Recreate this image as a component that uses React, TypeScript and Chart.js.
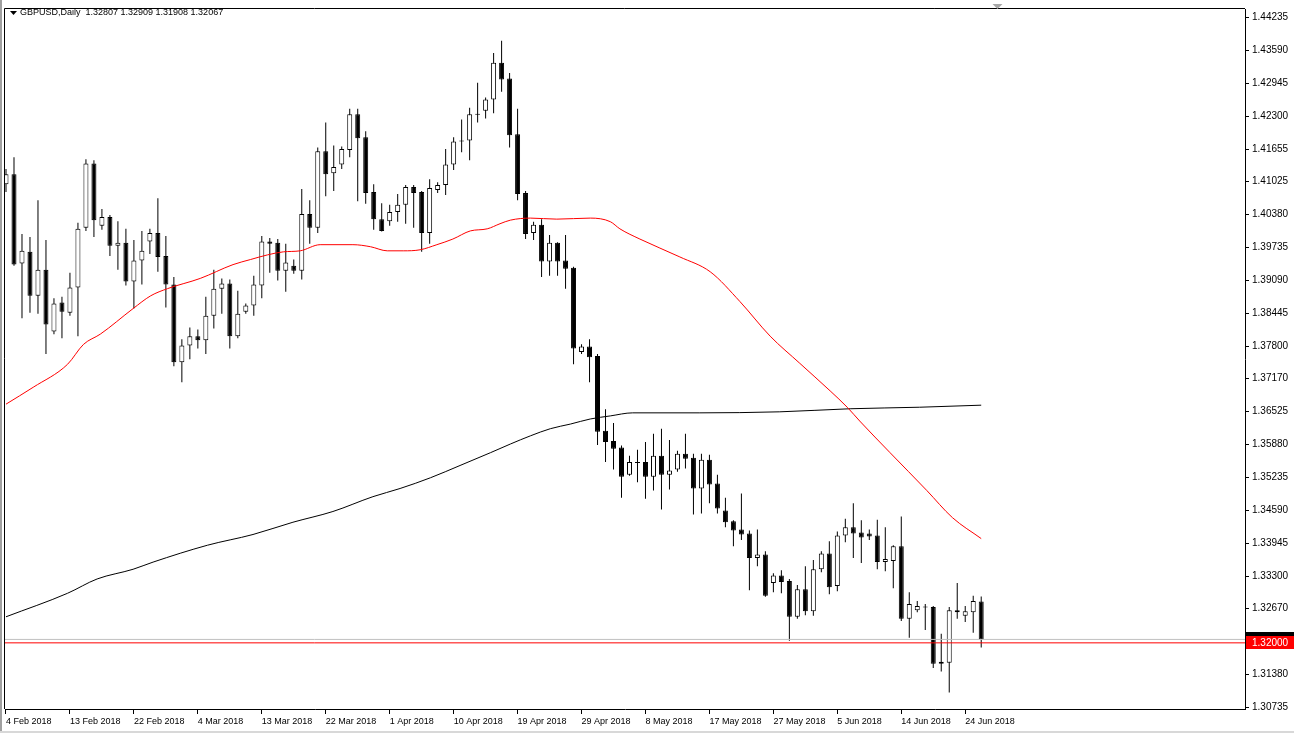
import React, { useEffect, useRef } from 'react';
import { Chart, registerables } from 'chart.js';

Chart.register(...registerables);

// ---- Data (GBPUSD Daily, 4 Feb 2018 .. 26 Jun 2018, one bar per trading day incl. Sunday bars) ----
const symbolTitle = 'GBPUSD,Daily';

const openP = [
  1.4097, 1.4117, 1.3942, 1.3965, 1.3879, 1.3930, 1.3809, 1.3866, 1.3846, 1.3895,
  1.4012, 1.4138, 1.4016, 1.4033, 1.3977, 1.3983, 1.3907, 1.3948, 1.3985, 1.4002,
  1.3957, 1.3901, 1.3749, 1.3782, 1.3800, 1.3792, 1.3840, 1.3893, 1.3903, 1.3800,
  1.3848, 1.3860, 1.3899, 1.3985, 1.3983, 1.3928, 1.3938, 1.3928, 1.4039, 1.4012,
  1.4162, 1.4119, 1.4136, 1.4164, 1.4234, 1.4189, 1.4082, 1.4029, 1.4025, 1.4043,
  1.4057, 1.4092, 1.4082, 1.4002, 1.4086, 1.4096, 1.4136, 1.4183, 1.4183, 1.4233,
  1.4241, 1.4263, 1.4335, 1.4304, 1.4195, 1.4080, 1.4002, 1.4018, 1.3946, 1.3983,
  1.3948, 1.3934, 1.3769, 1.3780, 1.3761, 1.3615, 1.3595, 1.3582, 1.3529, 1.3552,
  1.3554, 1.3525, 1.3566, 1.3529, 1.3539, 1.3570, 1.3562, 1.3502, 1.3558, 1.3512,
  1.3459, 1.3438, 1.3422, 1.3414, 1.3366, 1.3373, 1.3317, 1.3332, 1.3321, 1.3251,
  1.3305, 1.3262, 1.3344, 1.3375, 1.3311, 1.3410, 1.3426, 1.3416, 1.3414, 1.3410,
  1.3358, 1.3360, 1.3389, 1.3247, 1.3264, 1.3270, 1.3270, 1.3163, 1.3161, 1.3264,
  1.3253, 1.3260, 1.32807,
];
const highP = [
  1.4127, 1.4150, 1.4000, 1.3994, 1.4066, 1.3988, 1.3874, 1.3877, 1.3924, 1.4022,
  1.4146, 1.4144, 1.4049, 1.4037, 1.4025, 1.4010, 1.3988, 1.4006, 1.4010, 1.4070,
  1.3996, 1.3916, 1.3794, 1.3817, 1.3813, 1.3877, 1.3930, 1.3913, 1.3911, 1.3889,
  1.3864, 1.3918, 1.3996, 1.3992, 1.3990, 1.3981, 1.3950, 1.4088, 1.4066, 1.4169,
  1.4218, 1.4173, 1.4171, 1.4245, 1.4245, 1.4201, 1.4097, 1.4060, 1.4057, 1.4078,
  1.4096, 1.4096, 1.4084, 1.4107, 1.4101, 1.4166, 1.4189, 1.4224, 1.4247, 1.4296,
  1.4267, 1.4354, 1.4378, 1.4315, 1.4245, 1.4084, 1.4024, 1.4029, 1.3998, 1.3984,
  1.3998, 1.3936, 1.3784, 1.3794, 1.3765, 1.3657, 1.3630, 1.3586, 1.3566, 1.3578,
  1.3593, 1.3609, 1.3619, 1.3597, 1.3576, 1.3609, 1.3570, 1.3570, 1.3568, 1.3529,
  1.3484, 1.3440, 1.3492, 1.3420, 1.3422, 1.3379, 1.3336, 1.3342, 1.3325, 1.3313,
  1.3350, 1.3362, 1.3379, 1.3399, 1.3418, 1.3443, 1.3473, 1.3440, 1.3422, 1.3441,
  1.3426, 1.3391, 1.3447, 1.3299, 1.3282, 1.3276, 1.3272, 1.3218, 1.3270, 1.3317,
  1.3272, 1.3292, 1.32909,
];
const lowP = [
  1.4082, 1.3938, 1.3835, 1.3846, 1.3844, 1.3765, 1.3804, 1.3796, 1.3840, 1.3800,
  1.4006, 1.3994, 1.4008, 1.3957, 1.3930, 1.3899, 1.3854, 1.3901, 1.3961, 1.3926,
  1.3856, 1.3741, 1.3710, 1.3755, 1.3776, 1.3765, 1.3815, 1.3844, 1.3776, 1.3796,
  1.3844, 1.3840, 1.3874, 1.3924, 1.3909, 1.3887, 1.3922, 1.3911, 1.3981, 1.4002,
  1.4074, 1.4084, 1.4127, 1.4150, 1.4064, 1.4059, 1.4008, 1.4005, 1.4016, 1.4024,
  1.4020, 1.4012, 1.3965, 1.3981, 1.4080, 1.4076, 1.4125, 1.4160, 1.4144, 1.4218,
  1.4226, 1.4236, 1.4278, 1.4169, 1.4066, 1.3990, 1.3988, 1.3916, 1.3918, 1.3918,
  1.3893, 1.3745, 1.3765, 1.3710, 1.3587, 1.3554, 1.3539, 1.3484, 1.3527, 1.3514,
  1.3482, 1.3498, 1.3461, 1.3500, 1.3535, 1.3541, 1.3451, 1.3453, 1.3473, 1.3453,
  1.3426, 1.3389, 1.3401, 1.3303, 1.3350, 1.3290, 1.3299, 1.3297, 1.3204, 1.3247,
  1.3254, 1.3253, 1.3338, 1.3295, 1.3301, 1.3397, 1.3366, 1.3356, 1.3401, 1.3344,
  1.3340, 1.3307, 1.3243, 1.3210, 1.3260, 1.3225, 1.3151, 1.3144, 1.3103, 1.3247,
  1.3241, 1.3220, 1.31908,
];
const closeP = [
  1.4117, 1.3940, 1.3967, 1.3879, 1.3930, 1.3823, 1.3864, 1.3848, 1.3895, 1.4010,
  1.4138, 1.4027, 1.4033, 1.3977, 1.3983, 1.3907, 1.3948, 1.3967, 1.4002, 1.3955,
  1.3901, 1.3749, 1.3782, 1.3800, 1.3792, 1.3840, 1.3893, 1.3903, 1.3800, 1.3844,
  1.3860, 1.3901, 1.3985, 1.3981, 1.3928, 1.3944, 1.3928, 1.4039, 1.4012, 1.4162,
  1.4117, 1.4131, 1.4166, 1.4234, 1.4187, 1.4080, 1.4029, 1.4006, 1.4043, 1.4057,
  1.4092, 1.4080, 1.4002, 1.4090, 1.4096, 1.4136, 1.4181, 1.4181, 1.4234, 1.4234,
  1.4263, 1.4335, 1.4302, 1.4193, 1.4078, 1.4000, 1.4018, 1.3946, 1.3983, 1.3946,
  1.3932, 1.3776, 1.3780, 1.3759, 1.3613, 1.3593, 1.3580, 1.3525, 1.3554, 1.3553,
  1.3525, 1.3566, 1.3529, 1.3537, 1.3570, 1.3560, 1.3502, 1.3558, 1.3510, 1.3463,
  1.3436, 1.3420, 1.3412, 1.3366, 1.3373, 1.3292, 1.3332, 1.3319, 1.3251, 1.3305,
  1.3262, 1.3344, 1.3375, 1.3309, 1.3410, 1.3426, 1.3414, 1.3406, 1.3408, 1.3358,
  1.3364, 1.3389, 1.3247, 1.3276, 1.3272, 1.3269, 1.3159, 1.3159, 1.3264, 1.3260,
  1.3262, 1.3282, 1.32067,
];

// Moving averages (bar index -> price)
const maRedBars = [0, 3.4, 7.7, 9.7, 11.8, 15.9, 18.1, 20.2, 24.3, 28.4, 30.6, 32.7, 34.7, 36.8, 39.3, 43.4, 45.6, 47.7, 49.7, 51.8, 53.9, 55.9, 58.1, 60.2, 61.8, 63.1, 65.6, 68.9, 73.1, 75.6, 76.8, 79.3, 84.3, 88.1, 91.8, 95.6, 99.3, 103.1, 105.3, 106.8, 110.6, 115.2, 118.4, 122];
const maRedValues = [1.3667, 1.3700, 1.3745, 1.3784, 1.3804, 1.3854, 1.3879, 1.3893, 1.3913, 1.3940, 1.3950, 1.3959, 1.3965, 1.3967, 1.3979, 1.3979, 1.3975, 1.3967, 1.3967, 1.3969, 1.3979, 1.3990, 1.4006, 1.4010, 1.4020, 1.4027, 1.4031, 1.4029, 1.4031, 1.4024, 1.4010, 1.3990, 1.3955, 1.3926, 1.3868, 1.3800, 1.3747, 1.3693, 1.3660, 1.3634, 1.3572, 1.3498, 1.3445, 1.3404];
const maBlackBars = [0, 7.7, 11.4, 15.9, 18.4, 25.2, 30.9, 35.9, 40.9, 45.9, 49.3, 53.1, 56.8, 60.6, 63.1, 65.6, 68.1, 70.6, 73.1, 75.6, 78.4, 86.8, 96.8, 105.6, 114.3, 122];
const maBlackValues = [1.3251, 1.3297, 1.3325, 1.3344, 1.3358, 1.3391, 1.3412, 1.3436, 1.3457, 1.3486, 1.3502, 1.3523, 1.3547, 1.3572, 1.3589, 1.3605, 1.3619, 1.3628, 1.3638, 1.3644, 1.3650, 1.3650, 1.3652, 1.3658, 1.3661, 1.3665];

const xTickBars = [0, 8, 16, 24, 32, 40, 48, 56, 64, 72, 80, 88, 96, 104, 112, 120];
const xTickLabels = ['4 Feb 2018', '13 Feb 2018', '22 Feb 2018', '4 Mar 2018', '13 Mar 2018', '22 Mar 2018', '1 Apr 2018', '10 Apr 2018', '19 Apr 2018', '29 Apr 2018', '8 May 2018', '17 May 2018', '27 May 2018', '5 Jun 2018', '14 Jun 2018', '24 Jun 2018'];
const yTickValues = [1.44235, 1.4359, 1.42945, 1.423, 1.41655, 1.41025, 1.4038, 1.39735, 1.3909, 1.38445, 1.378, 1.3717, 1.36525, 1.3588, 1.35235, 1.3459, 1.33945, 1.333, 1.3267, 1.3138, 1.30735];

const levelPrice = 1.32;
const bidPrice = 1.32067;

const FONT = '"Liberation Sans", Arial, sans-serif';

export default function App() {
  const ref = useRef<HTMLCanvasElement | null>(null);

  useEffect(() => {
    document.body.style.margin = '0';
    document.body.style.overflow = 'hidden';
    const canvas = ref.current;
    if (!canvas) return;

    const n = openP.length;
    const idx = Array.from({ length: n }, (_, i) => i);
    const wickData = idx.map((i) => ({ x: i, y: [lowP[i], highP[i]] }));
    const bodyData = idx.map((i) => ({ x: i, y: [openP[i], closeP[i]] }));
    const bodyColors = idx.map((i) => (closeP[i] >= openP[i] ? '#ffffff' : '#000000'));

    const mt4Plugin = {
      id: 'mt4Decor',
      beforeDraw(chart: any) {
        const { ctx, width, height } = chart;
        ctx.save();
        ctx.fillStyle = '#ffffff';
        ctx.fillRect(0, 0, width, height);
        ctx.fillStyle = '#a0a0a0';
        ctx.fillRect(0, 0, 2, height);
        ctx.fillStyle = '#d8d8d8';
        ctx.fillRect(0, height - 2, width, 2);
        ctx.restore();
      },
      afterDraw(chart: any) {
        const { ctx, chartArea: a, scales, width } = chart;
        const y = scales.y;
        const x = scales.x;
        ctx.save();
        // frame
        ctx.strokeStyle = '#000000';
        ctx.lineWidth = 1;
        ctx.beginPath();
        ctx.moveTo(a.left - 0.5, a.bottom);
        ctx.lineTo(a.left - 0.5, a.top - 0.5);
        ctx.lineTo(a.right, a.top - 0.5);
        ctx.stroke();

        // bid label (mostly hidden) and level label
        const yb = Math.round(y.getPixelForValue(bidPrice));
        ctx.fillStyle = '#000000';
        ctx.fillRect(a.right + 1, yb - 7, width - a.right - 1, 13);
        const yr = Math.round(y.getPixelForValue(levelPrice));
        ctx.fillStyle = '#ff0000';
        ctx.fillRect(a.right + 1, yr - 7, width - a.right - 1, 13);
        ctx.fillStyle = '#ffffff';
        ctx.font = '10px ' + FONT;
        ctx.textBaseline = 'middle';
        ctx.textAlign = 'left';
        ctx.fillText(levelPrice.toFixed(5), a.right + 7, yr);

        // title
        ctx.fillStyle = '#000000';
        ctx.beginPath();
        ctx.moveTo(10, 11);
        ctx.lineTo(17, 11);
        ctx.lineTo(13.5, 15);
        ctx.closePath();
        ctx.fill();
        ctx.font = '9px ' + FONT;
        ctx.fillText(
          symbolTitle + '  ' + [openP[n - 1], highP[n - 1], lowP[n - 1], closeP[n - 1]].map((v) => v.toFixed(5)).join(' '),
          20,
          13
        );

        // chart-shift marker
        const sx = Math.round(x.getPixelForValue(124)) + 0.5;
        ctx.fillStyle = '#a8a8a8';
        ctx.beginPath();
        ctx.moveTo(sx - 5, 4);
        ctx.lineTo(sx + 5, 4);
        ctx.lineTo(sx, 9);
        ctx.closePath();
        ctx.fill();
        ctx.restore();
      },
    };

    const chart = new Chart(canvas, {
      type: 'bar',
      data: {
        datasets: [
          {
            type: 'line',
            label: 'level',
            data: [{ x: -1, y: levelPrice }, { x: 200, y: levelPrice }],
            borderColor: '#ff0000',
            borderWidth: 1,
            pointRadius: 0,
            order: 0,
          } as any,
          {
            type: 'line',
            label: 'bid',
            data: [{ x: -1, y: bidPrice }, { x: 200, y: bidPrice }],
            borderColor: '#c0c0c0',
            borderWidth: 1,
            pointRadius: 0,
            order: 1,
          } as any,
          {
            type: 'line',
            label: 'MA fast',
            data: maRedBars.map((b, i) => ({ x: b, y: maRedValues[i] })),
            borderColor: '#ff0000',
            borderWidth: 1,
            pointRadius: 0,
            cubicInterpolationMode: 'monotone',
            order: 2,
          } as any,
          {
            type: 'line',
            label: 'MA slow',
            data: maBlackBars.map((b, i) => ({ x: b, y: maBlackValues[i] })),
            borderColor: '#000000',
            borderWidth: 1,
            pointRadius: 0,
            cubicInterpolationMode: 'monotone',
            order: 3,
          } as any,
          {
            label: 'body',
            data: bodyData as any,
            backgroundColor: bodyColors,
            borderColor: '#000000',
            borderWidth: 1,
            borderSkipped: false,
            barThickness: 5,
            minBarLength: 1,
            grouped: false,
            inflateAmount: 0,
            order: 4,
          } as any,
          {
            label: 'wick',
            data: wickData as any,
            backgroundColor: '#000000',
            borderWidth: 0,
            barThickness: 1,
            grouped: false,
            inflateAmount: 0,
            order: 5,
          } as any,
        ],
      },
      options: {
        responsive: false,
        animation: false,
        events: [],
        layout: { padding: { left: 5, top: 5, right: 0, bottom: 0 } },
        plugins: { legend: { display: false }, tooltip: { enabled: false }, title: { display: false } },
        scales: {
          x: {
            type: 'linear',
            min: -0.125,
            max: 155,
            offset: false,
            afterBuildTicks: (s: any) => {
              s.ticks = xTickBars.map((v) => ({ value: v }));
            },
            afterFit: (s: any) => {
              s.height = 24;
            },
            ticks: {
              autoSkip: false,
              maxRotation: 0,
              minRotation: 0,
              align: 'start',
              padding: 2,
              color: '#000000',
              font: { family: FONT, size: 9 },
              callback: (_v: any, i: number) => xTickLabels[i],
            },
            grid: { drawOnChartArea: false, drawTicks: true, tickLength: 5, color: '#000000', offset: false },
            border: { display: true, color: '#000000' },
          },
          y: {
            type: 'linear',
            position: 'right',
            min: 1.30706,
            max: 1.44401,
            afterBuildTicks: (s: any) => {
              s.ticks = yTickValues.map((v) => ({ value: v }));
            },
            afterFit: (s: any) => {
              s.width = 49;
            },
            ticks: {
              autoSkip: false,
              padding: 3,
              color: '#000000',
              font: { family: FONT, size: 10 },
              callback: (v: any) => Number(v).toFixed(5),
            },
            grid: { drawOnChartArea: false, drawTicks: true, tickLength: 4, color: '#000000' },
            border: { display: true, color: '#000000' },
          },
        },
      } as any,
      plugins: [mt4Plugin],
    });

    return () => chart.destroy();
  }, []);

  return (
    <div style={{ width: 1294, height: 733, position: 'relative', background: '#ffffff' }}>
      <canvas ref={ref} width={1294} height={733} style={{ display: 'block' }} />
    </div>
  );
}
